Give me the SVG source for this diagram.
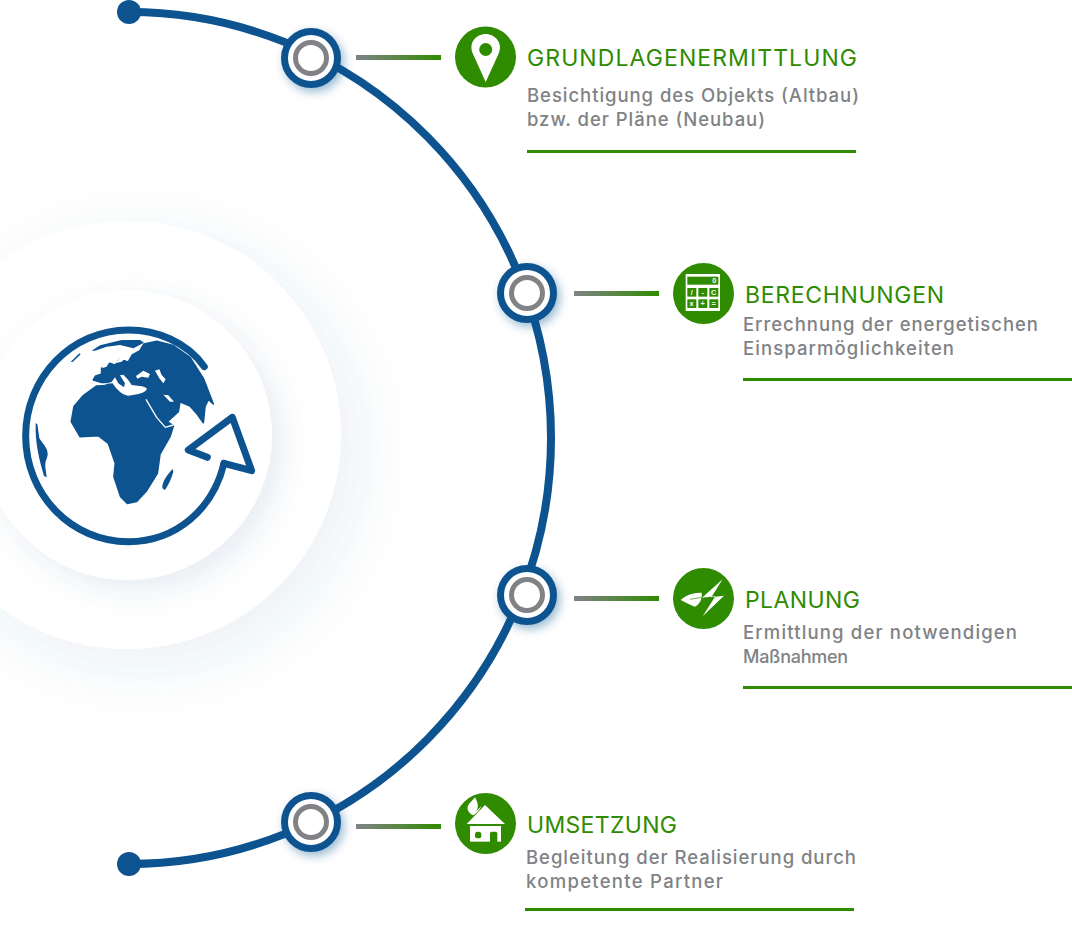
<svg xmlns="http://www.w3.org/2000/svg" width="1072" height="933" viewBox="0 0 1072 933">
<style>
.blue{fill:#0d5390}
.land{fill:#0d5390;stroke:#0d5390;stroke-width:5;stroke-linejoin:round}
.title{font-family:"Inter","Open Sans","Liberation Sans",sans-serif;font-size:23px;fill:#2f8b00}
.body{font-family:"Inter","Open Sans","Liberation Sans",sans-serif;font-size:18.5px;font-weight:500;fill:#808285}
.rule{fill:#2f8b00}
.ic{fill:#2f8b00}
.wh{fill:#fff}
.ring{fill:#fff;stroke:#0d5390;stroke-width:7}
.inner{fill:#fff;stroke:#808285;stroke-width:5}
.calc{font-family:"Liberation Sans",sans-serif;font-size:22px;font-weight:700;fill:#fff;text-anchor:middle}
</style>
<defs>
<filter id="bg" x="-40%" y="-40%" width="190%" height="190%"><feDropShadow dx="16" dy="16" stdDeviation="30" flood-color="#3f6c9c" flood-opacity=".1"/></filter>
<filter id="bg2" x="-40%" y="-40%" width="190%" height="190%"><feDropShadow dx="10" dy="10" stdDeviation="14" flood-color="#3f6c9c" flood-opacity=".13"/></filter>
<filter id="ns" x="-40%" y="-40%" width="190%" height="190%"><feDropShadow dx="3" dy="4" stdDeviation="5" flood-color="#0d5390" flood-opacity=".4"/></filter>
<linearGradient id="lg"><stop offset="0" stop-color="#808285"/><stop offset="1" stop-color="#2f8b00"/></linearGradient>
</defs>
<g id="backdrop">
<circle cx="127" cy="435" r="214" fill="#fff" filter="url(#bg)"/>
<circle cx="127" cy="435" r="145" fill="#fff" filter="url(#bg2)"/>
</g>
<g id="globe" transform="translate(0 300) scale(.3333)">
<path d="M613 200C560 125 470 90 385 90C215 90 77 232 77 408C77 585 215 725 385 725C530 725 640 625 672 490" fill="none" stroke="#0d5390" stroke-width="21" stroke-linecap="round"/>
<path d="M672 490L755 512L697 352L565 450L622 472" fill="none" stroke="#0d5390" stroke-width="21" stroke-linecap="round" stroke-linejoin="round"/>
<path class="land" d="M280 240L287 228L305 222L305 205L330 190L345 196L358 178L385 186L397 165L420 152L432 132L470 124L520 137L570 172L610 235L640 312L625 298L615 320L610 368L590 340L570 318L540 305L535 335L502 365L520 378L510 410L480 462L472 520L440 572L410 604L382 610L362 590L342 530L346 490L325 430L295 407L240 410L214 365L222 320L250 287L290 258L340 256L378 285L430 258L445 290Z"/>
<path class="wh" d="M282 254C300 258 320 250 338 250C350 270 370 287 385 287C410 282 435 282 441 266C430 256 410 258 395 255L385 240L370 224L360 226L375 250L372 262L355 250L345 232L335 246C315 252 295 250 282 254Z"/>
<path class="wh" d="M408 228L430 212L450 222L445 233L425 230L412 236ZM465 212L478 208L485 225L497 238L490 250L478 235ZM490 284L505 286L522 305L510 305ZM306 205L315 185L345 160L330 182L320 200ZM345 190L375 155L395 145L385 165L365 185Z"/>
<path d="M438 298L470 352L496 382L520 375" fill="none" stroke="#fff" stroke-width="4"/>
<path class="blue" d="M275 152L300 136L365 120L420 120L432 128L400 145L360 135L320 140L285 152ZM212 186L238 160L242 163L218 186Z"/>
<path class="blue" d="M107 370L112 372L118 415C128 430 143 445 143 462C143 475 135 480 136 500L140 532L132 528C118 480 105 430 107 370Z"/>
<path class="blue" d="M487 565C485 545 505 520 518 507L520 515C515 535 505 555 495 570Z"/>
</g>
<g id="connectors">
<path d="M129 12A422 426 0 0 1 129 864" fill="none" stroke="#0d5390" stroke-width="8"/>
<circle cx="129" cy="12" r="12" class="blue"/>
<circle cx="129" cy="864" r="12" class="blue"/>
<rect x="356" y="55" width="85" height="5" fill="url(#lg)"/>
<rect x="574" y="291" width="85" height="5" fill="url(#lg)"/>
<rect x="574" y="596" width="85" height="5" fill="url(#lg)"/>
<rect x="356" y="824" width="85" height="5" fill="url(#lg)"/>
</g>
<g id="node1">
<circle class="ring" cx="311" cy="58" r="26.5" filter="url(#ns)"/><circle class="inner" cx="311" cy="58" r="15.5"/>
<circle class="ic" cx="485.5" cy="57" r="30.5"/>
<path class="wh" d="M485.700 82L473 54C468 43 476 34 485.700 34C495 34 503.500 43 498.500 54Z"/><circle class="ic" cx="485.700" cy="49.500" r="6.500"/>
<text class="title" x="527" y="66" textLength="330" lengthAdjust="spacing">GRUNDLAGENERMITTLUNG</text>
<text class="body" x="527" y="102" textLength="332" lengthAdjust="spacing">Besichtigung des Objekts (Altbau)</text>
<text class="body" x="527" y="126" textLength="238" lengthAdjust="spacing">bzw. der Pläne (Neubau)</text>
<rect class="rule" x="527" y="150" width="329" height="3"/>
</g>
<g id="node2">
<circle class="ring" cx="527" cy="293" r="26.5" filter="url(#ns)"/><circle class="inner" cx="527" cy="293" r="15.5"/>
<circle class="ic" cx="703.500" cy="293.500" r="30.500"/>
<g transform="translate(660 250) scale(.3333)">
<rect class="wh" x="77" y="72" width="103" height="111"/>
<rect class="ic" x="82" y="80" width="93" height="24"/>
<g class="ic"><rect x="82" y="114" width="27" height="26"/><rect x="115" y="114" width="27" height="26"/><rect x="148" y="114" width="27" height="26"/><rect x="82" y="148" width="27" height="26"/><rect x="115" y="148" width="27" height="26"/><rect x="148" y="148" width="27" height="26"/></g>
<text class="calc" x="163" y="100">0</text><text class="calc" x="95" y="135">/</text><text class="calc" x="128" y="134">-</text><text class="calc" x="161" y="135">C</text><text class="calc" x="95" y="169">x</text><text class="calc" x="128" y="169">+</text><text class="calc" x="161" y="169">=</text>
</g>
<text class="title" x="745" y="302.500" textLength="199" lengthAdjust="spacing">BERECHNUNGEN</text>
<text class="body" x="743" y="331" textLength="295" lengthAdjust="spacing">Errechnung der energetischen</text>
<text class="body" x="743" y="355" textLength="211" lengthAdjust="spacing">Einsparmöglichkeiten</text>
<rect class="rule" x="743" y="378" width="329" height="3"/>
</g>
<g id="node3">
<circle class="ring" cx="527" cy="595" r="26.5" filter="url(#ns)"/><circle class="inner" cx="527" cy="595" r="15.5"/>
<circle class="ic" cx="703.500" cy="598.500" r="30.500"/>
<g transform="translate(660 555) scale(.3333)">
<path class="wh" d="M188 73L126 128L166 124L128 184L192 122L154 127Z"/>
<path class="wh" d="M62 135C75 125 90 112 125 113C127 130 122 145 105 155C90 150 75 142 62 135Z"/>
<path d="M90 133L126 127" stroke="#2f8b00" stroke-width="2" fill="none"/>
</g>
<text class="title" x="745" y="607.500" textLength="115" lengthAdjust="spacing">PLANUNG</text>
<text class="body" x="743" y="639" textLength="274" lengthAdjust="spacing">Ermittlung der notwendigen</text>
<text class="body" x="743" y="663" textLength="105" lengthAdjust="spacing" style="font-size:18px">Maßnahmen</text>
<rect class="rule" x="743" y="686" width="329" height="3"/>
</g>
<g id="node4">
<circle class="ring" cx="311" cy="822" r="26.5" filter="url(#ns)"/><circle class="inner" cx="311" cy="822" r="15.5"/>
<circle class="ic" cx="485.500" cy="823.500" r="30.500"/>
<g transform="translate(445 780) scale(.3333)">
<path class="wh" d="M90 52C100 70 103 85 90 97L110 78C105 88 95 100 85 106C70 100 62 85 72 72Z"/>
<path class="wh" d="M120 75L180 132H65Z"/>
<path class="wh" d="M75 138H168V185H75Z"/>
<rect class="ic" x="90" y="155" width="19" height="20" rx="8"/>
<path class="ic" d="M135 186V160Q135 155 140 155H152Q157 155 157 160V186Z"/>
</g>
<text class="title" x="527" y="832.500" textLength="150" lengthAdjust="spacing">UMSETZUNG</text>
<text class="body" x="526" y="864" textLength="330" lengthAdjust="spacing">Begleitung der Realisierung durch</text>
<text class="body" x="526" y="888" textLength="197" lengthAdjust="spacing">kompetente Partner</text>
<rect class="rule" x="525" y="908" width="329" height="3"/>
</g>
</svg>
